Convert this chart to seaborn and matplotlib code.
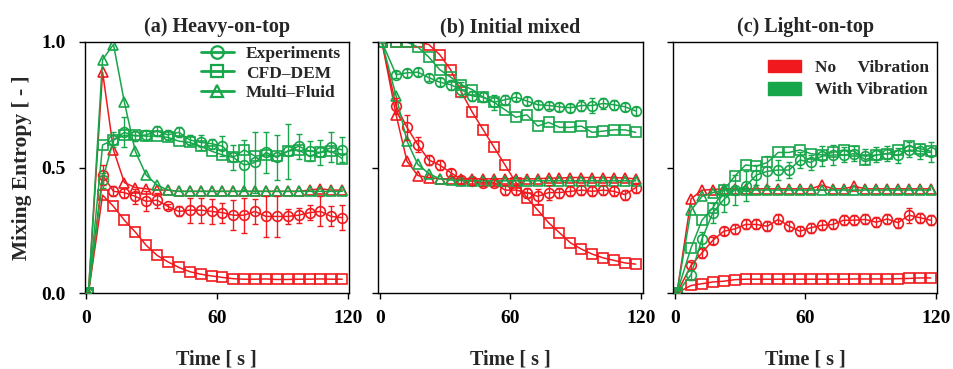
import matplotlib
matplotlib.use("Agg")
import matplotlib.pyplot as plt
import seaborn as sns
import pandas as pd
import numpy as np
from matplotlib.lines import Line2D
from matplotlib.patches import Patch

# ---------------- data ----------------
times = [1, 7.5, 12.5, 17.5, 22.5, 27.5, 32.5, 37.5, 42.5, 47.5, 52.5, 57.5,
         62.5, 67.5, 72.5, 77.5, 82.5, 87.5, 92.5, 97.5, 102.5, 107.5, 112.5, 117.5]

titles = ["(a) Heavy-on-top", "(b) Initial mixed", "(c) Light-on-top"]
methods = ["Experiments", "CFD\u2013DEM", "Multi\u2013Fluid"]
conditions = ["No     Vibration", "With Vibration"]

# (a) Heavy-on-top
a_exp_no = [0, 0.47, 0.405, 0.40, 0.385, 0.365, 0.37, 0.345, 0.325, 0.33, 0.33, 0.325,
            0.32, 0.31, 0.31, 0.325, 0.305, 0.305, 0.305, 0.31, 0.32, 0.325, 0.305, 0.30]
a_cfd_no = [0, 0.39, 0.345, 0.29, 0.243, 0.19, 0.15, 0.124, 0.102, 0.085, 0.075, 0.068,
            0.062, 0.057, 0.055, 0.055, 0.056, 0.054, 0.054, 0.055, 0.055, 0.056, 0.055, 0.055]
a_mf_no = [0, 0.88, 0.57, 0.44, 0.42, 0.415, 0.41, 0.41, 0.405, 0.405, 0.405, 0.405,
           0.405, 0.405, 0.405, 0.405, 0.405, 0.405, 0.405, 0.405, 0.41, 0.415, 0.41, 0.41]
a_exp_vib = [0, 0.45, 0.61, 0.64, 0.625, 0.63, 0.645, 0.63, 0.64, 0.61, 0.60, 0.595,
             0.585, 0.54, 0.51, 0.52, 0.56, 0.54, 0.565, 0.585, 0.565, 0.56, 0.58, 0.57]
a_cfd_vib = [0, 0.59, 0.61, 0.628, 0.628, 0.625, 0.625, 0.62, 0.605, 0.60, 0.585, 0.565,
             0.55, 0.54, 0.57, 0.545, 0.55, 0.545, 0.565, 0.57, 0.545, 0.56, 0.565, 0.535]
a_mf_vib = [0, 0.93, 0.99, 0.76, 0.565, 0.47, 0.43, 0.41, 0.405, 0.405, 0.405, 0.405,
            0.405, 0.405, 0.405, 0.405, 0.405, 0.405, 0.405, 0.405, 0.405, 0.405, 0.405, 0.405]
a_err_no = [0, 0.04, 0.02, 0.02, 0.03, 0.04, 0.03, 0.01, 0.02, 0.05, 0.05, 0.05,
            0.04, 0.06, 0.07, 0.05, 0.08, 0.08, 0.03, 0.03, 0.03, 0.06, 0.04, 0.05]
a_err_vib = [0, 0.03, 0.03, 0.06, 0.02, 0.02, 0.02, 0.02, 0.02, 0.02, 0.03, 0.02,
             0.04, 0.05, 0.10, 0.12, 0.08, 0.09, 0.11, 0.05, 0.04, 0.05, 0.06, 0.05]

# (b) Initial mixed
b_exp_no = [1.0, 0.745, 0.66, 0.59, 0.53, 0.51, 0.48, 0.452, 0.445, 0.44, 0.44, 0.41,
            0.41, 0.40, 0.385, 0.40, 0.40, 0.405, 0.41, 0.405, 0.41, 0.405, 0.392, 0.42]
b_cfd_no = [1.0, 1.0, 1.0, 1.0, 0.99, 0.95, 0.89, 0.80, 0.72, 0.65, 0.58, 0.51,
            0.44, 0.38, 0.33, 0.28, 0.24, 0.20, 0.175, 0.155, 0.14, 0.13, 0.12, 0.115]
b_mf_no = [1.0, 0.71, 0.525, 0.468, 0.46, 0.455, 0.455, 0.455, 0.455, 0.455, 0.455, 0.455,
           0.455, 0.455, 0.455, 0.458, 0.458, 0.46, 0.46, 0.46, 0.46, 0.46, 0.458, 0.455]
b_exp_vib = [1.0, 0.87, 0.877, 0.88, 0.858, 0.84, 0.83, 0.81, 0.785, 0.78, 0.76, 0.77,
             0.78, 0.765, 0.75, 0.747, 0.742, 0.738, 0.747, 0.747, 0.755, 0.75, 0.742, 0.725]
b_cfd_vib = [1.0, 1.0, 1.0, 0.98, 0.94, 0.89, 0.86, 0.83, 0.81, 0.78, 0.76, 0.73,
             0.70, 0.71, 0.665, 0.68, 0.66, 0.66, 0.665, 0.64, 0.645, 0.65, 0.65, 0.64]
b_mf_vib = [1.0, 0.785, 0.605, 0.512, 0.476, 0.455, 0.45, 0.448, 0.447, 0.447, 0.447, 0.447,
            0.447, 0.447, 0.447, 0.447, 0.447, 0.447, 0.447, 0.447, 0.447, 0.447, 0.447, 0.447]
b_err_no = [0, 0.03, 0.05, 0.03, 0.02, 0.02, 0.015, 0.015, 0.015, 0.015, 0.015, 0.02,
            0.02, 0.02, 0.03, 0.03, 0.02, 0.02, 0.02, 0.02, 0.02, 0.02, 0.02, 0.02]
b_err_vib = [0, 0.015, 0.015, 0.015, 0.015, 0.015, 0.02, 0.03, 0.02, 0.02, 0.03, 0.02,
             0.015, 0.015, 0.015, 0.015, 0.015, 0.015, 0.02, 0.03, 0.02, 0.02, 0.015, 0.015]

# (c) Light-on-top
c_exp_no = [0, 0.11, 0.16, 0.21, 0.246, 0.255, 0.273, 0.273, 0.266, 0.293, 0.266, 0.246,
            0.26, 0.27, 0.273, 0.29, 0.29, 0.293, 0.282, 0.295, 0.28, 0.31, 0.30, 0.29]
c_cfd_no = [0, 0.03, 0.037, 0.044, 0.047, 0.053, 0.055, 0.055, 0.055, 0.055, 0.055, 0.055,
            0.055, 0.055, 0.055, 0.055, 0.056, 0.056, 0.056, 0.056, 0.057, 0.058, 0.06, 0.06]
c_mf_no = [0, 0.375, 0.41, 0.412, 0.415, 0.415, 0.415, 0.415, 0.415, 0.415, 0.415, 0.415,
           0.415, 0.43, 0.415, 0.415, 0.425, 0.415, 0.415, 0.415, 0.415, 0.415, 0.415, 0.415]
c_exp_vib = [0, 0.073, 0.215, 0.32, 0.372, 0.41, 0.425, 0.47, 0.485, 0.49, 0.49, 0.53,
             0.52, 0.545, 0.55, 0.55, 0.555, 0.545, 0.55, 0.555, 0.548, 0.57, 0.565, 0.56]
c_cfd_vib = [0, 0.18, 0.29, 0.34, 0.41, 0.465, 0.51, 0.505, 0.52, 0.56, 0.56, 0.57,
             0.555, 0.55, 0.56, 0.57, 0.565, 0.53, 0.55, 0.555, 0.57, 0.585, 0.575, 0.565]
c_mf_vib = [0, 0.33, 0.385, 0.40, 0.41, 0.41, 0.41, 0.41, 0.41, 0.41, 0.41, 0.41,
            0.41, 0.41, 0.41, 0.41, 0.41, 0.41, 0.41, 0.41, 0.41, 0.41, 0.41, 0.41]
c_err_no = [0, 0.015, 0.02, 0.015, 0.015, 0.02, 0.02, 0.02, 0.02, 0.02, 0.02, 0.02,
            0.02, 0.02, 0.02, 0.02, 0.02, 0.02, 0.02, 0.02, 0.02, 0.03, 0.02, 0.02]
c_err_vib = [0, 0.02, 0.03, 0.04, 0.05, 0.06, 0.06, 0.04, 0.06, 0.04, 0.03, 0.03,
             0.03, 0.04, 0.04, 0.03, 0.03, 0.03, 0.03, 0.03, 0.03, 0.03, 0.03, 0.04]

x_ticks = [0, 60, 120]
y_ticks = [0.0, 0.5, 1.0]
y_ticklabels = ["0.0", "0.5", "1.0"]

panels = [
    dict(exp=(a_exp_no, a_exp_vib), cfd=(a_cfd_no, a_cfd_vib), mf=(a_mf_no, a_mf_vib), err=(a_err_no, a_err_vib)),
    dict(exp=(b_exp_no, b_exp_vib), cfd=(b_cfd_no, b_cfd_vib), mf=(b_mf_no, b_mf_vib), err=(b_err_no, b_err_vib)),
    dict(exp=(c_exp_no, c_exp_vib), cfd=(c_cfd_no, c_cfd_vib), mf=(c_mf_no, c_mf_vib), err=(c_err_no, c_err_vib)),
]

# ---------------- style ----------------
sns.set_style("ticks")
FONT = ["Liberation Serif", "DejaVu Serif"]
plt.rcParams["font.family"] = FONT
plt.rcParams["font.weight"] = "bold"
plt.rcParams["axes.linewidth"] = 1.0

RED = "#f01a1e"
GREEN = "#17a64a"
cols = [RED, GREEN]
markers = {"exp": "o", "cfd": "s", "mf": "^"}
msize = {"exp": 7.0, "cfd": 6.8, "mf": 7.5}

fig = plt.figure(figsize=(9.54, 3.69), dpi=100)
lefts = [84.5 / 954, 378 / 954, 673 / 954]
width = 264.5 / 954
bottom = (369 - 293) / 369
height = 251 / 369

for i, p in enumerate(panels):
    ax = fig.add_axes([lefts[i], bottom, width, height])
    for ci in (0, 1):
        col = cols[ci]
        for key in ("cfd", "mf", "exp"):
            df = pd.DataFrame({"t": times, "v": p[key][ci]})
            sns.lineplot(data=df, x="t", y="v", ax=ax, color=col, marker=markers[key],
                         markersize=msize[key], mfc="none", mec=col, mew=1.2,
                         linewidth=1.1, errorbar=None, sort=False)
        ax.errorbar(times, p["exp"][ci], yerr=p["err"][ci], fmt="none", ecolor=col,
                    elinewidth=1.0, capsize=2.3, capthick=1.0, zorder=3)
    ax.set_xlim(-0.8, 120.6)
    ax.set_ylim(0, 1.0)
    ax.set_xticks(x_ticks)
    ax.set_yticks(y_ticks)
    ax.set_xticklabels([str(v) for v in x_ticks], fontsize=14, fontweight="bold")
    if i == 0:
        ax.set_yticklabels(y_ticklabels, fontsize=14, fontweight="bold")
        ax.set_ylabel("Mixing Entropy [ - ]", fontsize=15.5, fontweight="bold", labelpad=7)
    else:
        ax.set_yticklabels([])
        ax.set_ylabel("")
    ax.tick_params(axis="both", direction="out", length=4.5, width=1.0, colors="black")
    ax.tick_params(axis="y", pad=9)
    ax.tick_params(axis="x", pad=8)
    ax.set_xlabel("Time [ s ]", fontsize=14.5, fontweight="bold", labelpad=16)
    ax.set_title(titles[i], fontsize=14.5, fontweight="bold", pad=7)
    for s in ax.spines.values():
        s.set_visible(True)
        s.set_color("black")
        s.set_linewidth(1.0)

    if i == 0:
        handles = [Line2D([0], [0], color=GREEN, marker=markers[k], markersize=9, mfc="none",
                          mec=GREEN, mew=1.6, linewidth=2.0) for k in ("exp", "cfd", "mf")]
        ax.legend(handles, methods, loc="upper left", bbox_to_anchor=(0.44, 0.985),
                  frameon=False, prop={"family": FONT, "weight": "bold", "size": 12.5},
                  handlelength=1.9, handletextpad=0.7, labelspacing=0.2, borderpad=0,
                  borderaxespad=0)
    if i == 2:
        handles = [Patch(facecolor=RED, edgecolor=RED), Patch(facecolor=GREEN, edgecolor=GREEN)]
        ax.legend(handles, conditions, loc="upper left", bbox_to_anchor=(0.36, 0.93),
                  frameon=False, prop={"family": FONT, "weight": "bold", "size": 12.5},
                  handlelength=1.9, handleheight=0.75, handletextpad=0.8, labelspacing=0.35,
                  borderpad=0, borderaxespad=0)

fig.savefig("out.png", dpi=100)
